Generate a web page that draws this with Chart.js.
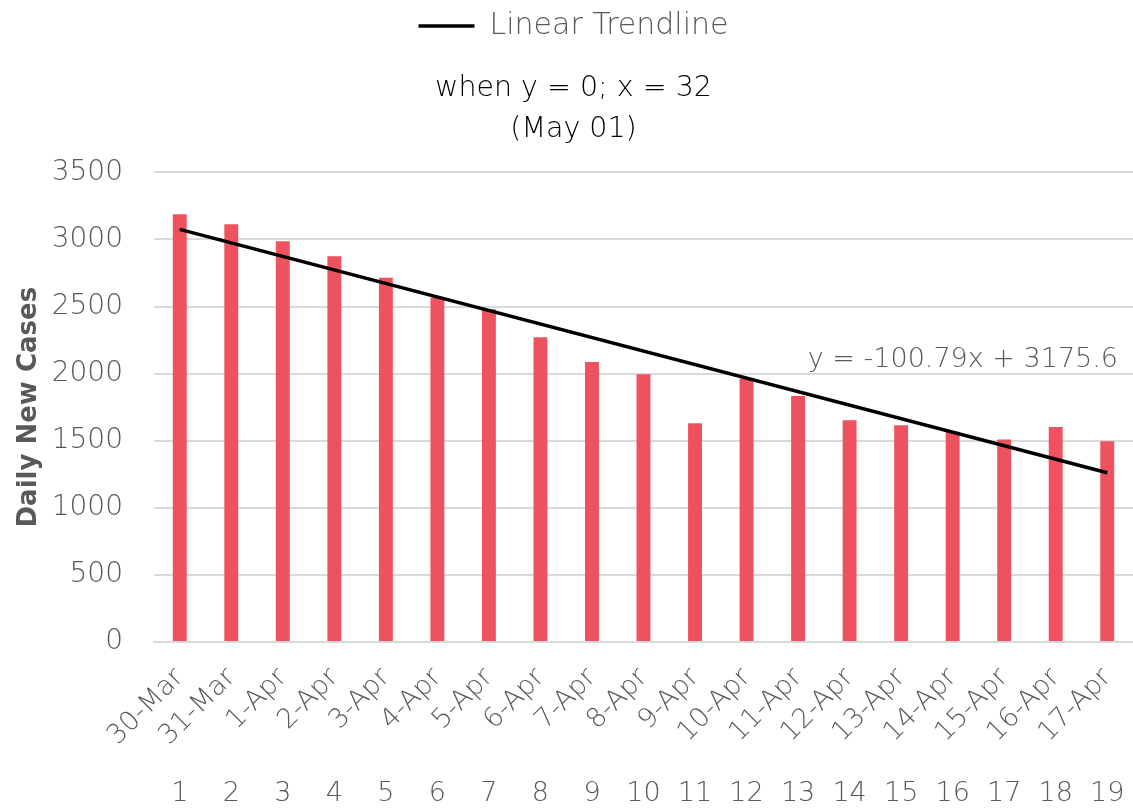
<!DOCTYPE html>
<html>
<head>
<meta charset="utf-8">
<script src="https://cdn.jsdelivr.net/npm/chart.js@4"></script>
<style>
  html, body { margin: 0; padding: 0; background: #fff; }
  #wrap { width: 1133px; height: 809px; }
</style>
</head>
<body>
<div id="wrap"><canvas id="chart"></canvas></div>
<script>
const dates = ['30-Mar', '31-Mar', '1-Apr', '2-Apr', '3-Apr', '4-Apr', '5-Apr', '6-Apr', '7-Apr', '8-Apr',
    '9-Apr', '10-Apr', '11-Apr', '12-Apr', '13-Apr', '14-Apr', '15-Apr', '16-Apr', '17-Apr'];
const dayNumbers = ['1', '2', '3', '4', '5', '6', '7', '8', '9', '10', '11', '12', '13', '14', '15', '16', '17', '18', '19'];
const dailyCases = [3187, 3113, 2986, 2874, 2715, 2567, 2480, 2271, 2087, 1996,
    1631, 1963, 1834, 1653, 1616, 1566, 1509, 1603, 1497];
// trendline end points (day 1 and day 19)
const trendStart = 3075;
const trendEnd = 1261;
const yTicks = [0, 500, 1000, 1500, 2000, 2500, 3000, 3500];
const equationText = 'y = -100.79x + 3175.6';
const titleLines = ['when y = 0; x = 32', '(May 01)'];

const FONT = "'DejaVu Sans', sans-serif";
const GREY = '#595959';

const trendData = dates.map((d, i) => {
    if (i === 0) return trendStart;
    if (i === dates.length - 1) return trendEnd;
    return null;
});

// fixed axis sizes so the plot sits where it does in the original
const fitAxis = (size) => (axis) => {
    axis.paddingLeft = 0;
    axis.paddingRight = 0;
    if (axis.isHorizontal()) axis.height = size;
    else axis.width = size;
};

const equationPlugin = {
    id: 'equationLabel',
    afterDatasetsDraw: (chart) => {
        const { ctx, chartArea } = chart;
        ctx.save();
        ctx.font = '200 27px ' + FONT;
        ctx.fillStyle = GREY;
        ctx.textAlign = 'right';
        ctx.textBaseline = 'middle';
        ctx.fillText(equationText, chartArea.right - 15, chartArea.top + 188);
        ctx.restore();
    }
};

new Chart(document.getElementById('chart').getContext('2d'), {
    type: 'bar',
    data: {
        labels: dates,
        datasets: [{
            type: 'line',
            label: 'Linear Trendline',
            data: trendData,
            borderColor: '#000',
            backgroundColor: '#000',
            borderWidth: 3.5,
            pointRadius: 0,
            spanGaps: true,
            order: 0
        }, {
            label: 'Daily New Cases',
            data: dailyCases,
            backgroundColor: '#ee525e',
            borderWidth: 0,
            barPercentage: 0.27,
            categoryPercentage: 1,
            order: 1
        }]
    },
    options: {
        responsive: true,
        maintainAspectRatio: false,
        animation: false,
        layout: { padding: { left: 14, right: 0, top: 7, bottom: 0 } },
        plugins: {
            legend: {
                position: 'top',
                weight: 3000,
                labels: {
                    filter: (item) => item.text === 'Linear Trendline',
                    boxWidth: 56,
                    boxHeight: 0,
                    color: GREY,
                    font: { family: FONT, size: 30, weight: '200' },
                    padding: 4,
                    generateLabels: (chart) => Chart.defaults.plugins.legend.labels.generateLabels(chart).map(l => {
                        l.lineWidth = 3.5;
                        return l;
                    })
                }
            },
            title: {
                display: true,
                text: titleLines,
                color: '#000',
                font: { family: FONT, size: 28.5, weight: '200', lineHeight: 1.41 },
                padding: { top: 18, bottom: 23 }
            },
            tooltip: { enabled: false }
        },
        scales: {
            x: {
                position: 'bottom',
                afterFit: fitAxis(114),
                grid: { display: false, drawTicks: false },
                border: { color: '#d9d9d9', width: 2 },
                ticks: {
                    color: GREY,
                    font: { family: FONT, size: 27, weight: '200' },
                    maxRotation: 45,
                    minRotation: 45,
                    padding: 20,
                    autoSkip: false
                }
            },
            x2: {
                type: 'category',
                labels: dayNumbers,
                position: 'bottom',
                afterFit: fitAxis(53),
                grid: { display: false, drawTicks: false },
                border: { display: false },
                ticks: {
                    color: GREY,
                    font: { family: FONT, size: 27, weight: '200' },
                    maxRotation: 0,
                    minRotation: 0,
                    padding: 22,
                    autoSkip: false
                }
            },
            y: {
                min: 0,
                max: 3500,
                afterFit: fitAxis(140),
                afterBuildTicks: (axis) => { axis.ticks = yTicks.map(v => ({ value: v })); },
                grid: { color: '#d9d9d9', lineWidth: 2, drawTicks: false },
                border: { display: false },
                ticks: {
                    color: GREY,
                    font: { family: FONT, size: 28, weight: '200' },
                    padding: 31,
                    callback: (v) => String(v)
                },
                title: {
                    display: true,
                    text: 'Daily New Cases',
                    color: GREY,
                    font: { family: FONT, size: 26, weight: 'bold' },
                    padding: 0
                }
            }
        }
    },
    plugins: [equationPlugin]
});
</script>
</body>
</html>
